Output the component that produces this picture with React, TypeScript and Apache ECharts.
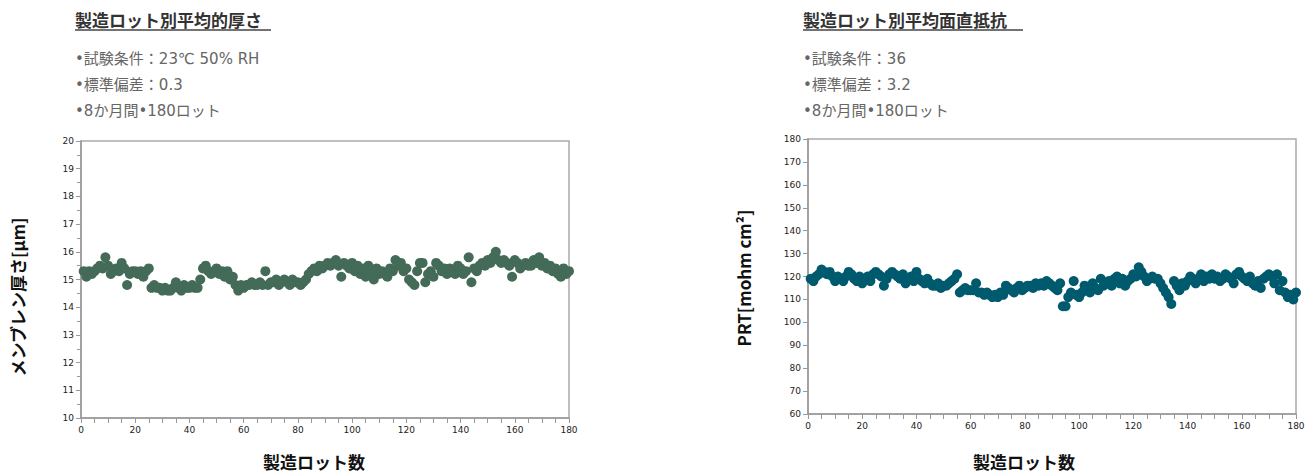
import React, { useEffect, useRef } from "react";
import * as echarts from "echarts";

const lots: number[] = Array.from({ length: 180 }, (_, i) => i + 1);

const thickness: number[] = [
  15.3, 15.1, 15.3, 15.2, 15.3, 15.4, 15.5, 15.4, 15.8, 15.5,
  15.2, 15.3, 15.4, 15.3, 15.6, 15.4, 14.8, 15.2, 15.3, 15.3,
  15.2, 15.3, 15.1, 15.3, 15.4, 14.7, 14.8, 14.7, 14.7, 14.6,
  14.7, 14.6, 14.6, 14.7, 14.9, 14.7, 14.6, 14.8, 14.7, 14.7,
  14.8, 14.7, 14.7, 15.0, 15.4, 15.5, 15.3, 15.2, 15.3, 15.4,
  15.2, 15.3, 15.1, 15.3, 15.0, 15.1, 14.8, 14.6, 14.8, 14.7,
  14.8, 14.8, 14.9, 14.8, 14.8, 14.9, 14.8, 15.3, 14.8, 14.9,
  14.9, 15.0, 14.8, 14.9, 15.0, 14.9, 14.8, 15.0, 14.9, 14.9,
  14.8, 14.9, 15.0, 15.2, 15.3, 15.4, 15.3, 15.5, 15.4, 15.5,
  15.6, 15.5, 15.6, 15.7, 15.5, 15.1, 15.6, 15.5, 15.4, 15.6,
  15.3, 15.5, 15.2, 15.4, 15.1, 15.5, 15.3, 15.0, 15.4, 15.2,
  15.3, 15.2, 15.1, 15.4, 15.3, 15.7, 15.5, 15.6, 15.3, 15.4,
  15.0, 14.9, 14.8, 15.3, 15.6, 15.6, 14.9, 15.2, 15.3, 15.1,
  15.6, 15.5, 15.3, 15.4, 15.2, 15.4, 15.3, 15.2, 15.5, 15.4,
  15.2, 15.3, 15.8, 14.9, 15.4, 15.3, 15.5, 15.6, 15.5, 15.7,
  15.6, 15.8, 16.0, 15.7, 15.6, 15.7, 15.6, 15.5, 15.1, 15.7,
  15.6, 15.4, 15.5, 15.6, 15.5, 15.5, 15.7, 15.6, 15.8, 15.5,
  15.6, 15.4, 15.5, 15.3, 15.4, 15.2, 15.1, 15.4, 15.2, 15.3,
];

const resistance: number[] = [
  119, 118, 120, 121, 123, 122, 121, 122, 120, 118,
  120, 119, 118, 120, 122, 121, 119, 118, 120, 117,
  119, 120, 118, 121, 122, 121, 120, 116, 119, 121,
  122, 121, 120, 119, 121, 117, 119, 120, 118, 122,
  119, 118, 117, 119, 117, 116, 116, 117, 115, 116,
  116, 117, 118, 119, 121, 113, 114, 115, 114, 114,
  114, 117, 113, 113, 112, 113, 112, 111, 112, 111,
  113, 112, 116, 115, 114, 113, 115, 116, 114, 115,
  116, 116, 115, 117, 116, 117, 116, 118, 117, 116,
  115, 114, 117, 107, 107, 111, 113, 118, 112, 111,
  113, 116, 114, 113, 117, 115, 114, 119, 116, 117,
  118, 116, 119, 120, 117, 119, 116, 118, 119, 121,
  120, 124, 122, 120, 118, 119, 120, 119, 119, 117,
  115, 113, 111, 108, 118, 116, 114, 117, 116, 118,
  120, 119, 117, 119, 121, 118, 120, 119, 121, 119,
  120, 118, 119, 121, 120, 119, 117, 121, 122, 120,
  119, 118, 120, 117, 116, 118, 115, 119, 120, 121,
  120, 117, 121, 114, 118, 113, 111, 112, 110, 113,
];

const leftTitle = "製造ロット別平均的厚さ";
const leftNotes = ["•試験条件：23℃ 50% RH", "•標準偏差：0.3", "•8か月間•180ロット"];
const rightTitle = "製造ロット別平均面直抵抗";
const rightNotes = ["•試験条件：36", "•標準偏差：3.2", "•8か月間•180ロット"];
const xName = "製造ロット数";
const leftYName = "メンブレン厚さ[µm]";
const rightYName = "PRT[mohm cm²]";

const JP = "'Noto Sans CJK JP', 'Noto Sans', sans-serif";
const NOTE_FONT = "'DejaVu Sans', 'Noto Sans CJK JP', sans-serif";
const TICK_FONT = "'DejaVu Sans', Verdana, sans-serif";

export default function App() {
  const ref = useRef<HTMLDivElement>(null);
  useEffect(() => {
    if (!ref.current) return;
    const chart = echarts.init(ref.current, undefined, { renderer: "svg" });

    const axisCommon = {
      axisLine: { show: true, lineStyle: { color: "#999", width: 1.5 } },
      axisTick: { show: true, length: 5, lineStyle: { color: "#999" } },
      axisLabel: { fontFamily: TICK_FONT, fontSize: 9, color: "#222", margin: 7 },
      splitLine: { show: false },
    };

    const xAxisFor = (gi: number) => ({
      type: "value",
      gridIndex: gi,
      min: 0,
      max: 180,
      interval: 20,
      ...axisCommon,
      minorTick: { show: true, splitNumber: 4, length: 5, lineStyle: { color: "#999" } },
    });

    const notes = (arr: string[], x: number) =>
      arr.map((t, i) => ({
        type: "text",
        x,
        y: 59 + i * 26,
        style: {
          text: t,
          fontFamily: NOTE_FONT,
          fontSize: 15,
          fill: "#666",
          textVerticalAlign: "middle",
        },
      }));

    const titleEl = (t: string, x: number, w: number) => [
      {
        type: "text",
        x,
        y: 19,
        style: {
          text: t,
          fontFamily: JP,
          fontSize: 17,
          fontWeight: "bold",
          fill: "#333",
          textVerticalAlign: "middle",
        },
      },
      {
        type: "line",
        shape: { x1: x, y1: 30, x2: x + w, y2: 30 },
        style: { stroke: "#444", lineWidth: 1.5 },
      },
    ];

    const axisTitle = (t: string, x: number, y: number, rot: number) => ({
      type: "text",
      x,
      y,
      rotation: rot,
      style: {
        text: t,
        fontFamily: JP,
        fontSize: 17,
        fontWeight: "bold",
        fill: "#111",
        textAlign: "center",
        textVerticalAlign: "middle",
      },
    });

    chart.setOption({
      animation: false,
      grid: [
        { left: 81, top: 141, width: 488, height: 277, show: true, borderColor: "#aaa", borderWidth: 1.5 },
        { left: 808, top: 139, width: 488, height: 275, show: true, borderColor: "#aaa", borderWidth: 1.5 },
      ],
      xAxis: [xAxisFor(0), xAxisFor(1)],
      yAxis: [
        {
          type: "value",
          gridIndex: 0,
          min: 10,
          max: 20,
          interval: 1,
          ...axisCommon,
          minorTick: { show: true, splitNumber: 2, length: 4, lineStyle: { color: "#999" } },
        },
        {
          type: "value",
          gridIndex: 1,
          min: 60,
          max: 180,
          interval: 10,
          ...axisCommon,
        },
      ],
      series: [
        {
          type: "scatter",
          xAxisIndex: 0,
          yAxisIndex: 0,
          symbolSize: 10,
          itemStyle: { color: "#436b58", opacity: 1 },
          data: lots.map((l, i) => [l, thickness[i]]),
        },
        {
          type: "scatter",
          xAxisIndex: 1,
          yAxisIndex: 1,
          symbolSize: 10,
          itemStyle: { color: "#005a6e", opacity: 1 },
          data: lots.map((l, i) => [l, resistance[i]]),
        },
      ],
      graphic: [
        ...titleEl(leftTitle, 75, 196),
        ...notes(leftNotes, 75),
        ...titleEl(rightTitle, 803, 220),
        ...notes(rightNotes, 803),
        axisTitle(xName, 314, 461, 0),
        axisTitle(xName, 1024, 461, 0),
        axisTitle(leftYName, 17, 297, Math.PI / 2),
        axisTitle(rightYName, 743, 278, Math.PI / 2),
      ],
    });
    return () => chart.dispose();
  }, []);

  return (
    <div
      ref={ref}
      style={{ position: "absolute", left: 0, top: 0, width: 1314, height: 472 }}
    />
  );
}
